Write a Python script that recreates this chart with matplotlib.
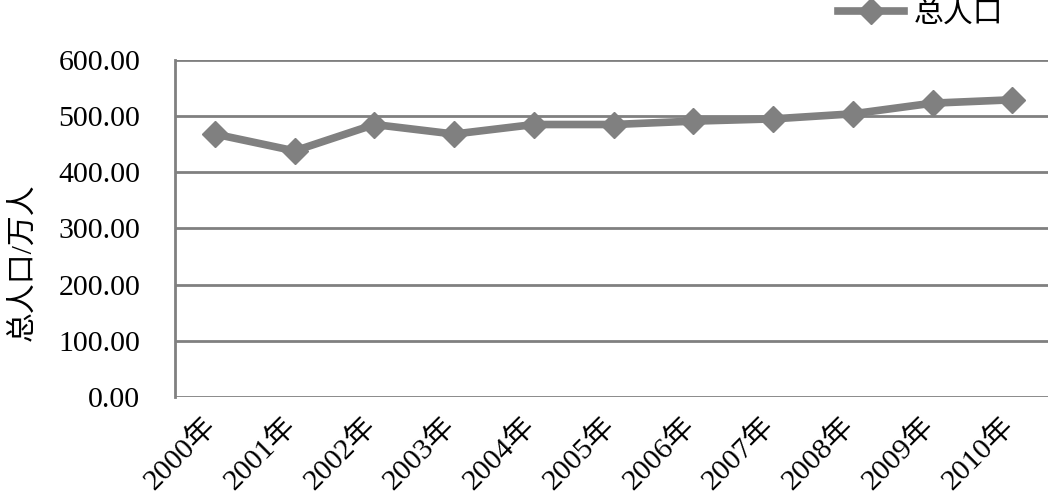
import matplotlib
matplotlib.use('Agg')
import matplotlib.pyplot as plt
import matplotlib.transforms as mtransforms
from matplotlib.ticker import FormatStrFormatter

plt.rcParams['font.family'] = ['Liberation Serif', 'Noto Sans CJK SC']

# data
years = ['2000年', '2001年', '2002年', '2003年', '2004年', '2005年',
         '2006年', '2007年', '2008年', '2009年', '2010年']
population = [468, 438, 485, 468, 485, 485, 491, 495, 504, 523, 529]
y_ticks = [0, 100, 200, 300, 400, 500, 600]

gray = '#808080'
fs = 21.5

fig = plt.figure(figsize=(10.48, 4.95), dpi=100)
ax = fig.add_axes([0.167, 0.198, 0.837, 0.681])

x = list(range(len(years)))
ax.plot(x, population, color=gray, linewidth=5.5, marker='D', markersize=13,
        label='总人口', solid_joinstyle='miter')

ax.set_xlim(-0.5, len(years) - 0.5)
ax.set_ylim(0, 600)
ax.set_yticks(y_ticks)
ax.yaxis.set_major_formatter(FormatStrFormatter('%.2f'))
ax.set_xticks(x)
ax.set_xticklabels(years, rotation=45, ha='right', rotation_mode='anchor')
ax.tick_params(axis='both', length=0, labelsize=fs, colors='black')
ax.tick_params(axis='y', pad=25)
ax.tick_params(axis='x', pad=11)

# nudge the rotated year labels to the left, as in the reference
shift = mtransforms.ScaledTranslation(-12 / 100, 0, fig.dpi_scale_trans)
for lab in ax.get_xticklabels():
    lab.set_transform(lab.get_transform() + shift)

ax.grid(axis='y', color=gray, linewidth=2)
ax.set_axisbelow(True)
for side in ['top', 'right', 'bottom']:
    ax.spines[side].set_visible(False)
ax.spines['left'].set_color(gray)
ax.spines['left'].set_linewidth(2)

ax.set_ylabel('总人口/万人', fontsize=fs)
ax.yaxis.set_label_coords(-0.158, 0.4)

fig.legend(loc='center left', bbox_to_anchor=(838 / 1048, 1 - 14 / 495),
           frameon=False, fontsize=fs, handlelength=2.2, handletextpad=0.35,
           borderaxespad=0, borderpad=0)

plt.savefig('out.png', dpi=100)
